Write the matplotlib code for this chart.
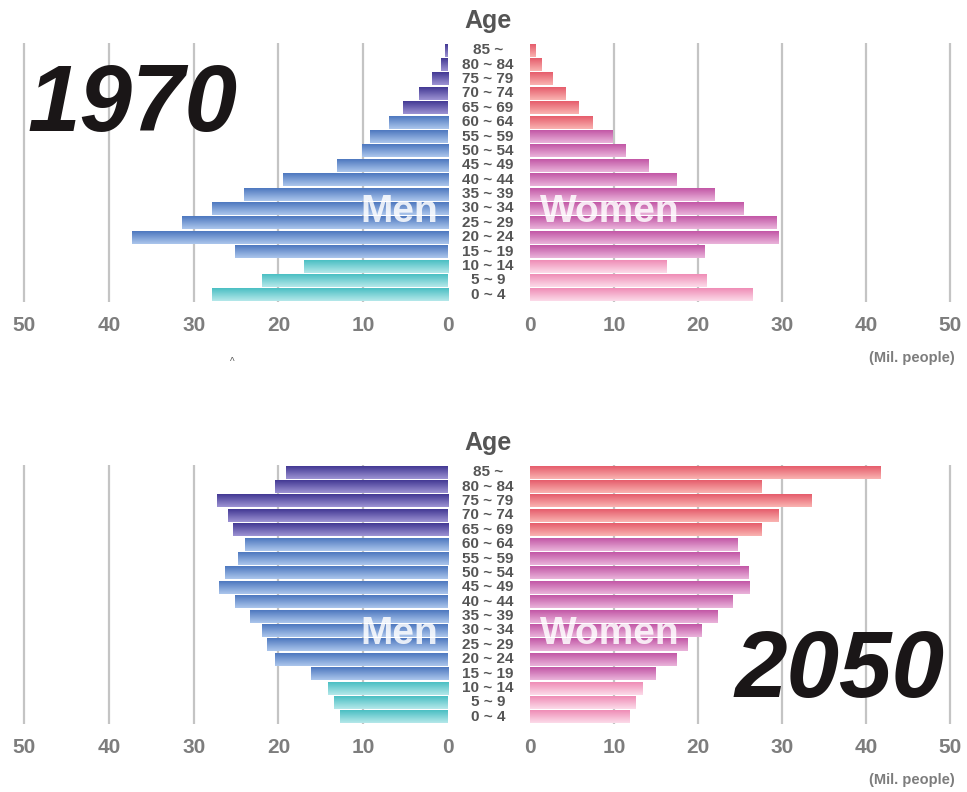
import matplotlib

matplotlib.use("Agg")
import matplotlib.pyplot as plt
import numpy as np
from matplotlib.colors import to_rgba
from matplotlib.transforms import blended_transform_factory

AGE_GROUPS = ["0 ~ 4", "5 ~ 9", "10 ~ 14", "15 ~ 19", "20 ~ 24", "25 ~ 29",
              "30 ~ 34", "35 ~ 39", "40 ~ 44", "45 ~ 49", "50 ~ 54", "55 ~ 59",
              "60 ~ 64", "65 ~ 69", "70 ~ 74", "75 ~ 79", "80 ~ 84", "85 ~"]

# million people, youngest group first
MEN_1970 = [27.9, 21.9, 17.0, 25.1, 37.3, 31.4, 27.9, 24.1, 19.5,
            13.1, 10.2, 9.2, 7.0, 5.3, 3.4, 1.9, 0.8, 0.3]
WOMEN_1970 = [26.5, 21.0, 16.2, 20.8, 29.6, 29.4, 25.4, 22.0, 17.5,
              14.1, 11.4, 9.8, 7.5, 5.8, 4.2, 2.7, 1.4, 0.7]
MEN_2050 = [12.7, 13.4, 14.2, 16.2, 20.4, 21.3, 21.9, 23.4, 25.1,
            27.0, 26.3, 24.8, 24.0, 25.4, 25.9, 27.3, 20.4, 19.1]
WOMEN_2050 = [11.8, 12.6, 13.4, 14.9, 17.4, 18.7, 20.4, 22.3, 24.1,
              26.2, 26.0, 24.9, 24.7, 27.6, 29.6, 33.5, 27.6, 41.8]

TICKS = [0, 10, 20, 30, 40, 50]

# gradient (top, bottom) per colour band
MEN_BANDS = {"young": ("#4bbfc3", "#b4e8ea"), "adult": ("#4e78bf", "#abc6ec"),
             "old": ("#433994", "#9d93d3")}
WOMEN_BANDS = {"young": ("#ef8db6", "#fcdbe9"), "adult": ("#c257a6", "#eab3da"),
               "old": ("#e65d6c", "#f9b3b1")}

W, H = 967, 792
FONT = ["Liberation Sans", "DejaVu Sans"]
GREY = "#7d7d7d"
DARK = "#555555"


def band(i, old_from):
    if i < 3:
        return "young"
    return "old" if i >= old_from else "adult"


def gradient_bars(ax, values, bands, old_from):
    bars = ax.barh(range(len(values)), values, height=0.9, color="none", zorder=2)
    for i, patch in enumerate(bars.patches):
        top, bottom = bands[band(i, old_from)]
        c_top, c_bot = np.array(to_rgba(top)), np.array(to_rgba(bottom))
        t = np.linspace(0, 1, 32)[:, None]
        img = (c_bot * (1 - t) + c_top * t)[:, None, :]
        x0, y0 = patch.get_x(), patch.get_y()
        ax.imshow(img, origin="lower", aspect="auto", zorder=2, interpolation="bilinear",
                  extent=[x0, x0 + patch.get_width(), y0, y0 + patch.get_height()])


def style_axis(ax, xlim):
    ax.set_xlim(*xlim)
    ax.set_ylim(-0.5, len(AGE_GROUPS) - 0.5)
    ax.set_yticks([])
    ax.set_xticks(TICKS)
    ax.set_xticklabels([str(t) for t in TICKS], family=FONT, weight="bold",
                       fontsize=15, color=GREY)
    ax.tick_params(axis="x", length=0, pad=10)
    ax.grid(axis="x", color="#c4c4c4", linewidth=1.6, zorder=0)
    ax.set_axisbelow(True)
    for s in ax.spines.values():
        s.set_visible(False)
    ax.patch.set_alpha(0)


def pyramid(fig, top_px, men, women, women_old_from):
    bottom = (H - top_px - 259) / H
    height = 259 / H
    ax_m = fig.add_axes([20 / W, bottom, 428 / W, height])
    ax_w = fig.add_axes([530 / W, bottom, 424 / W, height])
    gradient_bars(ax_m, men, MEN_BANDS, 13)
    gradient_bars(ax_w, women, WOMEN_BANDS, women_old_from)
    style_axis(ax_m, (50.5, 0))
    style_axis(ax_w, (0, 50.5))
    # hide the gridline at 0
    ax_m.get_xgridlines()[0].set_visible(False)
    ax_w.get_xgridlines()[0].set_visible(False)

    tr = blended_transform_factory(fig.transFigure, ax_w.transData)
    for i, lab in enumerate(AGE_GROUPS):
        ax_w.text(488 / W, i, lab, transform=tr, ha="center", va="center",
                  family=FONT, weight="bold", fontsize=11, color=DARK)
    fig.text(488 / W, 1 - (top_px - 22) / H, "Age", ha="center", va="center",
             family=FONT, weight="bold", fontsize=18, color=DARK)
    y_lab = 1 - (top_px + 169) / H
    fig.text(438 / W, y_lab, "Men", ha="right", va="center", family=FONT,
             weight="bold", fontsize=28, color="white", alpha=0.85, zorder=5)
    fig.text(540 / W, y_lab, "Women", ha="left", va="center", family=FONT,
             weight="bold", fontsize=28, color="white", alpha=0.85, zorder=5)
    fig.text(955 / W, 1 - (top_px + 315) / H, "(Mil. people)", ha="right",
             va="center", family=FONT, weight="bold", fontsize=10.5, color=GREY)


fig = plt.figure(figsize=(W / 100, H / 100), dpi=100)
pyramid(fig, 43, MEN_1970, WOMEN_1970, 12)
pyramid(fig, 465, MEN_2050, WOMEN_2050, 13)

fig.text(132 / W, 1 - 106 / H, "1970", ha="center", va="center", family=FONT,
         weight="bold", style="italic", fontsize=68, color="#1a1617")
fig.text(839 / W, 1 - 672 / H, "2050", ha="center", va="center", family=FONT,
         weight="bold", style="italic", fontsize=68, color="#1a1617")
fig.text(232 / W, 1 - 362 / H, "^", ha="center", va="center", family=FONT,
         fontsize=7, color="#555555")

fig.savefig("out.png", dpi=100)
